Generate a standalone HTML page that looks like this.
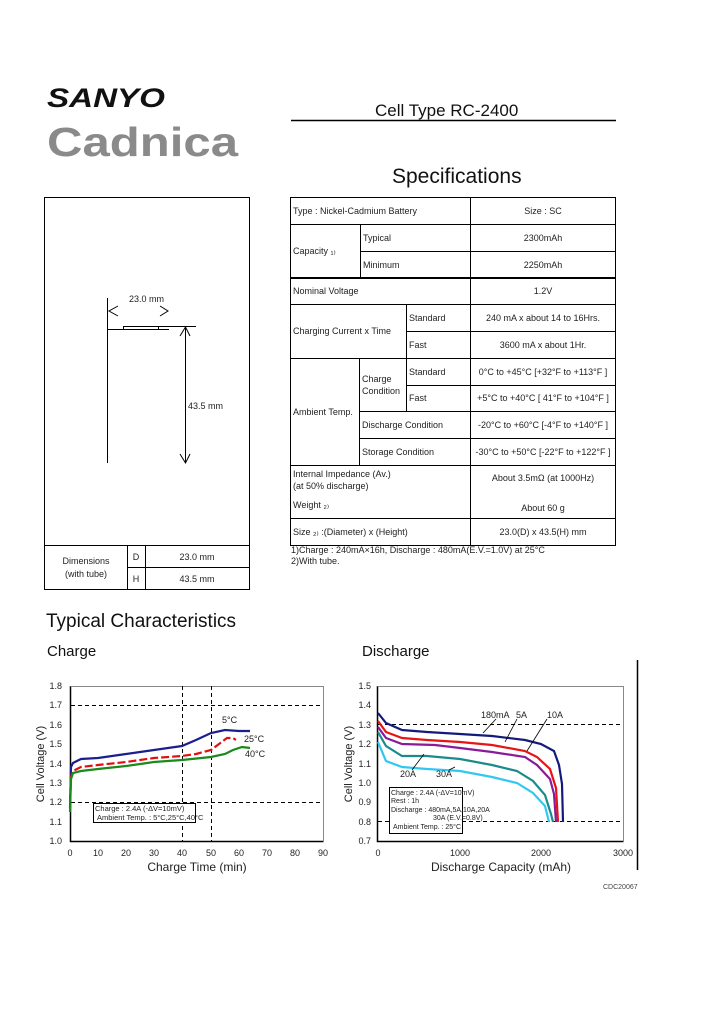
<!DOCTYPE html>
<html><head><meta charset="utf-8"><style>
html,body{margin:0;padding:0;background:#fff}
svg{display:block;font-family:"Liberation Sans",Arial,sans-serif}
</style></head><body>
<svg width="720" height="1012" viewBox="0 0 720 1012" xmlns="http://www.w3.org/2000/svg">
<rect width="720" height="1012" fill="#fff"/>
<!-- Logo -->
<text x="47" y="107" font-size="27" font-weight="bold" font-style="italic" fill="#111" textLength="118" lengthAdjust="spacingAndGlyphs">SANYO</text>
<text x="47" y="156" font-size="41" font-weight="bold" fill="#8a8a8a" textLength="191" lengthAdjust="spacingAndGlyphs">Cadnica</text>
<!-- Titles -->
<text x="375" y="116" font-size="17" fill="#111">Cell Type RC-2400</text>
<line x1="291" y1="120.5" x2="616" y2="120.5" stroke="#000" stroke-width="1.5"/>
<text x="392" y="183" font-size="21" fill="#111">Specifications</text>

<!-- Left dimension box -->
<g stroke="#000" fill="none" stroke-width="1">
<rect x="44.5" y="197.5" width="205" height="392"/>
<line x1="44.5" y1="545.5" x2="249.5" y2="545.5"/>
<line x1="127.5" y1="567.5" x2="249.5" y2="567.5"/>
<line x1="127.5" y1="545.5" x2="127.5" y2="589.5"/>
<line x1="145.5" y1="545.5" x2="145.5" y2="589.5"/>
<line x1="107.5" y1="298" x2="107.5" y2="463"/>
<line x1="107.5" y1="329.5" x2="169" y2="329.5"/>
<rect x="123.5" y="326.5" width="35" height="3"/>
<line x1="158" y1="326.5" x2="196" y2="326.5"/>
<line x1="185.5" y1="328" x2="185.5" y2="463"/>
<polyline points="180,336 185.5,327 190,336"/>
<polyline points="180,454 185.5,463 190,454"/>
<polyline points="118,306 109,311 118,316"/>
<polyline points="160,306 168,311 160,316"/>
</g>
<g font-size="9" fill="#222">
<text x="129" y="302">23.0 mm</text>
<text x="188" y="409">43.5 mm</text>
<text x="86" y="564" text-anchor="middle">Dimensions</text>
<text x="86" y="577" text-anchor="middle">(with tube)</text>
<text x="136" y="560" text-anchor="middle">D</text>
<text x="136" y="582" text-anchor="middle">H</text>
<text x="197" y="560" text-anchor="middle">23.0 mm</text>
<text x="197" y="582" text-anchor="middle">43.5 mm</text>
</g>

<!-- Spec table -->
<g stroke="#000" fill="none" stroke-width="1">
<rect x="290.5" y="197.5" width="325" height="348"/>
<line x1="470.5" y1="197.5" x2="470.5" y2="545.5"/>
<line x1="290.5" y1="224.5" x2="615.5" y2="224.5"/>
<line x1="360.5" y1="251.5" x2="615.5" y2="251.5"/>
<line x1="290.5" y1="278" x2="615.5" y2="278" stroke-width="2"/>
<line x1="290.5" y1="304.5" x2="615.5" y2="304.5"/>
<line x1="406.5" y1="331.5" x2="615.5" y2="331.5"/>
<line x1="290.5" y1="358.5" x2="615.5" y2="358.5"/>
<line x1="406.5" y1="385.5" x2="615.5" y2="385.5"/>
<line x1="359.5" y1="411.5" x2="615.5" y2="411.5"/>
<line x1="359.5" y1="438.5" x2="615.5" y2="438.5"/>
<line x1="290.5" y1="465.5" x2="615.5" y2="465.5"/>
<line x1="290.5" y1="518.5" x2="615.5" y2="518.5"/>
<line x1="360.5" y1="224.5" x2="360.5" y2="278"/>
<line x1="406.5" y1="304.5" x2="406.5" y2="411.5"/>
<line x1="359.5" y1="358.5" x2="359.5" y2="465.5"/>
</g>
<g font-size="9" fill="#222">
<text x="293" y="214">Type : Nickel-Cadmium Battery</text>
<text x="543" y="214" text-anchor="middle">Size : SC</text>
<text x="293" y="254">Capacity ₁₎</text>
<text x="363" y="241">Typical</text>
<text x="363" y="268">Minimum</text>
<text x="543" y="241" text-anchor="middle">2300mAh</text>
<text x="543" y="268" text-anchor="middle">2250mAh</text>
<text x="293" y="294">Nominal Voltage</text>
<text x="543" y="294" text-anchor="middle">1.2V</text>
<text x="293" y="334">Charging Current x Time</text>
<text x="409" y="321">Standard</text>
<text x="409" y="348">Fast</text>
<text x="543" y="321" text-anchor="middle">240 mA x about 14 to 16Hrs.</text>
<text x="543" y="348" text-anchor="middle">3600 mA x about 1Hr.</text>
<text x="293" y="415">Ambient Temp.</text>
<text x="362" y="382">Charge</text>
<text x="362" y="394">Condition</text>
<text x="409" y="375">Standard</text>
<text x="409" y="401">Fast</text>
<text x="543" y="375" text-anchor="middle">0°C to +45°C [+32°F to +113°F ]</text>
<text x="543" y="401" text-anchor="middle">+5°C to +40°C [ 41°F to +104°F ]</text>
<text x="362" y="428">Discharge Condition</text>
<text x="543" y="428" text-anchor="middle">-20°C to +60°C [-4°F to +140°F ]</text>
<text x="362" y="455">Storage Condition</text>
<text x="543" y="455" text-anchor="middle">-30°C to +50°C [-22°F to +122°F ]</text>
<text x="293" y="477">Internal Impedance (Av.)</text>
<text x="293" y="489">(at 50% discharge)</text>
<text x="543" y="481" text-anchor="middle">About 3.5mΩ (at 1000Hz)</text>
<text x="293" y="508">Weight ₂₎</text>
<text x="543" y="511" text-anchor="middle">About 60 g</text>
<text x="293" y="535">Size ₂₎ :(Diameter) x (Height)</text>
<text x="543" y="535" text-anchor="middle">23.0(D) x 43.5(H) mm</text>
<text x="291" y="553">1)Charge : 240mA×16h, Discharge : 480mA(E.V.=1.0V) at 25°C</text>
<text x="291" y="564">2)With tube.</text>
</g>

<text x="46" y="627" font-size="19" fill="#111">Typical Characteristics</text>
<text x="47" y="656" font-size="15" fill="#111">Charge</text>
<text x="362" y="656" font-size="15" fill="#111">Discharge</text>

<!-- Charge chart -->
<g stroke="#000" stroke-width="1" fill="none">
<polyline points="70.5,686 70.5,841.5 323.5,841.5" stroke-width="1.5"/>
<polyline points="70.5,686.5 323.5,686.5 323.5,841.5" stroke="#888"/>
<g stroke-dasharray="4,3">
<line x1="71" y1="705.5" x2="323" y2="705.5"/>
<line x1="71" y1="802.5" x2="323" y2="802.5"/>
<line x1="182.5" y1="686" x2="182.5" y2="841"/>
<line x1="211.5" y1="686" x2="211.5" y2="841"/>
</g>
</g>
<g font-size="9" fill="#222" text-anchor="end">
<text x="62" y="689">1.8</text><text x="62" y="708">1.7</text><text x="62" y="728">1.6</text>
<text x="62" y="747">1.5</text><text x="62" y="767">1.4</text><text x="62" y="786">1.3</text>
<text x="62" y="805">1.2</text><text x="62" y="825">1.1</text><text x="62" y="844">1.0</text>
</g>
<g font-size="9" fill="#222" text-anchor="middle">
<text x="70" y="856">0</text><text x="98" y="856">10</text><text x="126" y="856">20</text>
<text x="154" y="856">30</text><text x="182" y="856">40</text><text x="211" y="856">50</text>
<text x="239" y="856">60</text><text x="267" y="856">70</text><text x="295" y="856">80</text>
<text x="323" y="856">90</text>
</g>
<text x="197" y="871" font-size="12" fill="#222" text-anchor="middle">Charge Time (min)</text>
<text transform="translate(44,764) rotate(-90)" font-size="11" fill="#222" text-anchor="middle">Cell Voltage (V)</text>
<g fill="none" stroke-width="2.2">
<polyline stroke="#1a1f8c" points="70,808 71,767 73,763 81,759 98,758 126,754 154,750 182,746 196,740 211,733 225,730 239,731 250,731"/>
<polyline stroke="#e01010" stroke-dasharray="8,3" points="70,802 71,777 73,771 81,767 98,765 126,762 154,758 182,756 196,754 211,750 219,744 227,738 233,738 236,740"/>
<polyline stroke="#1a8a1a" points="70,812 71,779 73,773 81,771 98,769 126,766 154,762 182,760 211,757 225,754 233,750 242,747 250,748"/>
</g>
<g font-size="9" fill="#222">
<text x="222" y="723">5°C</text><text x="244" y="742">25°C</text><text x="245" y="757">40°C</text>
</g>
<rect x="93.5" y="803.5" width="102" height="19" fill="#fff" stroke="#000"/>
<g font-size="7.5" fill="#222">
<text x="95" y="811">Charge : 2.4A (-ΔV=10mV)</text>
<text x="97" y="820">Ambient Temp. : 5°C,25°C,40°C</text>
</g>

<!-- Discharge chart -->
<g stroke="#000" stroke-width="1" fill="none">
<polyline points="377.5,686 377.5,841.5 623.5,841.5" stroke-width="1.5"/>
<polyline points="377.5,686.5 623.5,686.5 623.5,841.5" stroke="#888"/>
<g stroke-dasharray="4,3">
<line x1="378" y1="724.5" x2="623" y2="724.5"/>
<line x1="378" y1="821.5" x2="623" y2="821.5"/>
</g>
<line x1="637.5" y1="660" x2="637.5" y2="870" stroke-width="1.5"/>
</g>
<g font-size="9" fill="#222" text-anchor="end">
<text x="371" y="689">1.5</text><text x="371" y="708">1.4</text><text x="371" y="728">1.3</text>
<text x="371" y="747">1.2</text><text x="371" y="767">1.1</text><text x="371" y="786">1.0</text>
<text x="371" y="805">0.9</text><text x="371" y="825">0.8</text><text x="371" y="844">0.7</text>
</g>
<g font-size="9" fill="#222" text-anchor="middle">
<text x="378" y="856">0</text><text x="460" y="856">1000</text><text x="541" y="856">2000</text><text x="623" y="856">3000</text>
</g>
<text x="501" y="871" font-size="12" fill="#222" text-anchor="middle">Discharge Capacity (mAh)</text>
<text transform="translate(352,764) rotate(-90)" font-size="11" fill="#222" text-anchor="middle">Cell Voltage (V)</text>
<g fill="none" stroke-width="2.2">
<polyline stroke="#141a7c" points="378,713 386,723 402,730 427,732 460,734 492,736 525,740 541,744 554,751 559,765 562,784 563,822"/>
<polyline stroke="#e81414" points="378,721 386,732 402,738 427,740 460,742 492,745 525,751 537,757 550,769 556,788 558,822"/>
<polyline stroke="#8a1a9a" points="378,727 386,738 402,744 435,745 460,748 492,752 525,757 537,765 550,779 554,794 556,822"/>
<polyline stroke="#1a8a8a" points="378,732 386,746 402,756 427,756 460,759 492,765 517,771 533,781 545,795 551,814 553,822"/>
<polyline stroke="#30c8f0" points="378,742 386,761 402,767 427,769 460,771 492,777 517,783 533,793 545,806 549,822"/>
</g>
<g stroke="#000" stroke-width="0.8" fill="none">
<line x1="496" y1="719" x2="483" y2="733"/>
<line x1="517" y1="719" x2="505" y2="742"/>
<line x1="547" y1="719" x2="527" y2="751"/>
<line x1="412" y1="770" x2="424" y2="754"/>
<line x1="449" y1="770" x2="455" y2="767"/>
</g>
<g font-size="9" fill="#222">
<text x="481" y="718">180mA</text><text x="516" y="718">5A</text><text x="547" y="718">10A</text>
<text x="400" y="777">20A</text><text x="436" y="777">30A</text>
</g>
<rect x="389.5" y="787.5" width="73" height="46" fill="#fff" stroke="#000"/>
<g font-size="7" fill="#222">
<text x="391" y="795">Charge : 2.4A (-ΔV=10mV)</text>
<text x="391" y="803">Rest : 1h</text>
<text x="391" y="812">Discharge : 480mA,5A,10A,20A</text>
<text x="433" y="820">30A (E.V.=0.8V)</text>
<text x="393" y="829">Ambient Temp. : 25°C</text>
</g>
<text x="603" y="889" font-size="7" fill="#444">CDC20067</text>
</svg>
</body></html>
